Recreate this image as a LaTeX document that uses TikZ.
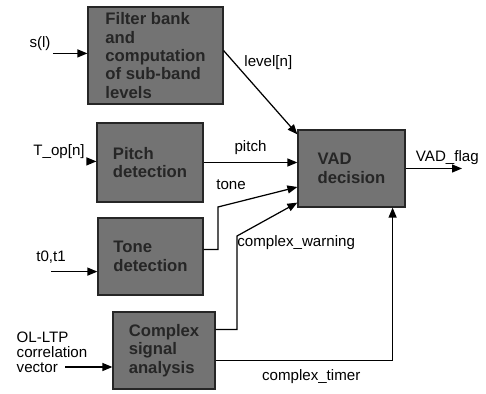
\documentclass[tikz,border=0pt]{standalone}
\usepackage{fontspec}
\setmainfont{Liberation Sans}
\usetikzlibrary{arrows.meta,calc,positioning}

\begin{document}
\begin{tikzpicture}[x=0.02cm,y=-0.02cm,>={Triangle[length=2mm,width=1.6mm]},
  line width=0.7pt,font=\fontsize{8.6}{10}\selectfont,
  blk/.style={draw=black!85,fill=black!55,text=black!85,inner sep=0pt,
    font=\fontsize{9.5}{10.5}\selectfont\bfseries,align=left},
  lbl/.style={inner sep=1pt}]
\useasboundingbox (0,0) rectangle (486,394);
% blocks
\node[blk,minimum width=2.7cm,minimum height=1.94cm] (fb) at (155.5,55.5) {Filter bank\\and\\computation\\of sub-band\\levels};
\node[blk,minimum width=2.12cm,minimum height=1.58cm] (pd) at (150,162.5) {Pitch\\detection};
\node[blk,minimum width=2.1cm,minimum height=1.54cm] (td) at (150.5,256.5) {Tone\\detection};
\node[blk,minimum width=2.04cm,minimum height=1.54cm] (cs) at (164,350.5) {Complex\\signal\\analysis};
\node[blk,minimum width=2.14cm,minimum height=1.54cm] (vad) at (351.5,168.5) {VAD\\decision};
% inputs
\node[lbl] (sin) at (40,44) {s(l)};
\node[lbl] (topn) at (59,152) {T\_op[n]};
\node[lbl] (tin) at (51,257) {t0,t1};
\node[lbl,align=left,font=\fontsize{8.6}{8.6}\selectfont] (olin) at (52,352) {OL-LTP\\correlation\\vector};
\coordinate (olend) at (65,367);
\draw[->] (sin.south east) -- (sin.south east -| fb.west);
\draw[->] (topn.south east) -- (topn.south east -| pd.west);
\draw[->] ([yshift=-0.12cm]tin.south) -- ([yshift=-0.12cm]tin.south -| td.west);
\draw[->] (olend) -- (olend -| cs.west);
% outputs into the decision
\draw[->] ($(fb.north east)!0.45!(fb.south east)$) -- node[pos=0.25,anchor=south west,lbl] (lvlab) {level[n]} ($(vad.north west)+(0,5)$);
\draw[->] (pd.east) -- node[above=3pt,lbl] (pitchlab) {pitch} (pd.east -| vad.west);
\coordinate (tk) at (218,207);
\draw[->] ($(td.east)+(0,-7)$) -| (tk) -- ($(vad.west)+(0,18.5)$);
\node[lbl] (tonelab) at (231,185) {tone};
\coordinate (cw) at (237,236);
\draw[->] ($(cs.north east)+(0,18)$) -| (cw) -- ($(vad.south west)+(0,-5)$);
\node[lbl,anchor=west] (cwlab) at (235,243) {complex\_warning};
\draw[->] ($(cs.south east)+(0,-29)$) -| node[pos=0.27,below=4pt,lbl] (ctlab) {complex\_timer} ($(vad.south east)+(-13,0)$);
\coordinate (flag) at (462,168.5);
\draw[->] (vad.east) -- node[pos=0.74,above=1pt,lbl] (flaglab) {VAD\_flag} (flag);
\end{tikzpicture}
\end{document}
